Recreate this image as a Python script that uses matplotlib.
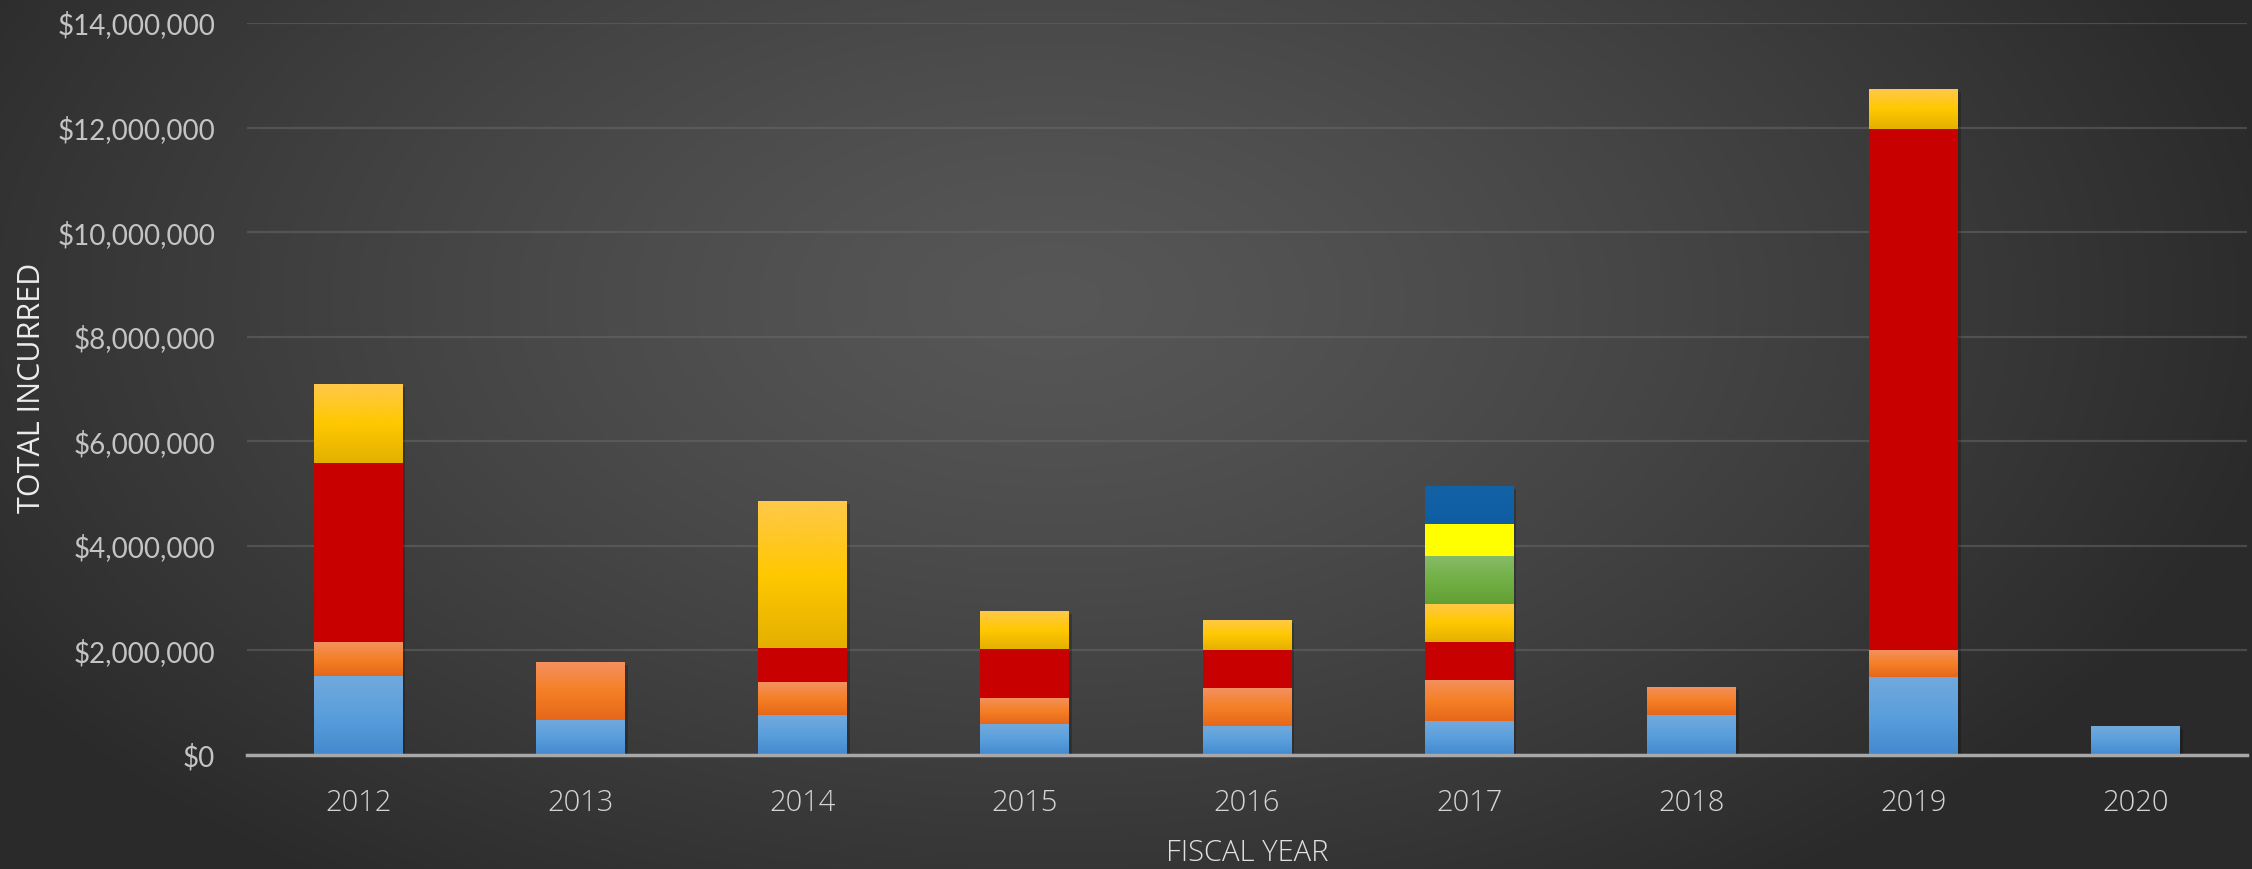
import numpy as np
import matplotlib
matplotlib.use("Agg")
import matplotlib.pyplot as plt
from matplotlib.ticker import FuncFormatter
from matplotlib import patheffects as pe
from matplotlib.colors import LinearSegmentedColormap

years = ["2012", "2013", "2014", "2015", "2016", "2017", "2018", "2019", "2020"]
# segment values, bottom to top
s_blue = [1515000, 670000, 760000, 590000, 554000, 645000, 764000, 1490000, 554000]
s_orange = [650000, 1110000, 630000, 505000, 720000, 795000, 536000, 510000, 0]
s_red = [3420000, 0, 660000, 930000, 730000, 720000, 0, 9980000, 0]
s_gold = [1510000, 0, 2800000, 725000, 574000, 730000, 0, 760000, 0]
s_green = [0, 0, 0, 0, 0, 920000, 0, 0, 0]
s_yellow = [0, 0, 0, 0, 0, 600000, 0, 0, 0]
s_navy = [0, 0, 0, 0, 0, 740000, 0, 0, 0]
y_ticks = [0, 2000000, 4000000, 6000000, 8000000, 10000000, 12000000, 14000000]

series = [
    (s_blue, ["#72a9dd", "#5a9fdc", "#4389ce"]),
    (s_orange, ["#f39160", "#f58026", "#e6671a"]),
    (s_red, ["#c80000", "#c80000", "#c80000"]),
    (s_gold, ["#ffc84a", "#ffc800", "#e3b000"]),
    (s_green, ["#88bb68", "#72b046", "#62a036"]),
    (s_yellow, ["#ffff00", "#ffff00", "#ffff00"]),
    (s_navy, ["#1362a6", "#1160a5", "#0f5ea3"]),
]

W, H = 2252, 869
fig = plt.figure(figsize=(W / 100, H / 100), dpi=100)

# background radial gradient
bg = fig.add_axes([0, 0, 1, 1])
yy, xx = np.mgrid[0:H, 0:W]
cx, cy = 1050, 300
r = np.sqrt(((xx - cx) / 1250.0) ** 2 + ((yy - cy) / 720.0) ** 2)
r = np.clip(r, 0, 1)
val = 0.34 - (0.34 - 0.165) * r ** 1.3
bg.imshow(np.dstack([val, val, val]), extent=[0, 1, 0, 1], aspect="auto", origin="upper")
bg.set_axis_off()

ax = fig.add_axes([247 / W, 1 - 755 / H, (2247 - 247) / W, (755 - 23) / H])
ax.set_facecolor("none")
ax.patch.set_alpha(0)

x = np.arange(len(years))
bottom = np.zeros(len(years))
width = 0.4
for vals, cols in series:
    vals = np.array(vals, dtype=float)
    bars = ax.bar(x, vals, width, bottom=bottom, color=cols[1], linewidth=0, zorder=3,
                  path_effects=[pe.SimplePatchShadow(offset=(2, -2), shadow_rgbFace="black", alpha=0.22), pe.Normal()])
    cmap = LinearSegmentedColormap.from_list("g", [cols[0], cols[1], cols[2]])
    grad = np.linspace(0, 1, 256).reshape(-1, 1)
    for b, v in zip(bars, vals):
        if v <= 0:
            continue
        x0, y0 = b.get_x(), b.get_y()
        im = ax.imshow(grad, cmap=cmap, aspect="auto", origin="upper",
                       extent=[x0, x0 + b.get_width(), y0, y0 + b.get_height()], zorder=4)
        im.set_clip_path(b)
    bottom += vals

ax.set_xlim(-0.5, len(years) - 0.5)
ax.set_ylim(0, 14000000)
ax.set_yticks(y_ticks)
ax.yaxis.set_major_formatter(FuncFormatter(lambda v, p: "${:,.0f}".format(v)))
ax.set_xticks(x)
ax.set_xticklabels(years)
ax.grid(axis="y", color="#6a6a6a", linewidth=1.6, alpha=0.5, zorder=0)
for s in ["top", "right", "left"]:
    ax.spines[s].set_visible(False)
ax.spines["bottom"].set_color("#a8a8a8")
ax.spines["bottom"].set_linewidth(2.5)
ax.spines["bottom"].set_zorder(5)
ax.tick_params(axis="both", length=0)
ax.tick_params(axis="y", pad=23, labelsize=20, labelcolor="#c4c4c4")
ax.tick_params(axis="x", pad=24, labelsize=21, labelcolor="#d4d4d4")
for t in ax.get_yticklabels():
    t.set_fontfamily(["Lato", "DejaVu Sans"])
    t.set_fontweight("normal")
for t in ax.get_xticklabels():
    t.set_fontfamily(["Open Sans", "DejaVu Sans"])
    t.set_fontweight("light")
ax.set_axisbelow(True)

fig.text(0.5 * (247 + 2247) / W, 16 / H, "FISCAL YEAR", ha="center", va="center",
         fontsize=21, color="#e0e0e0", family=["Open Sans", "DejaVu Sans"], fontweight="light")
fig.text(32 / W, 1 - 388 / H, "TOTAL INCURRED", ha="center", va="center", rotation=90,
         fontsize=22, color="#ececec", family=["Liberation Sans Narrow", "Open Sans", "DejaVu Sans"],
         fontweight="normal")

fig.savefig("out.png", dpi=100)
